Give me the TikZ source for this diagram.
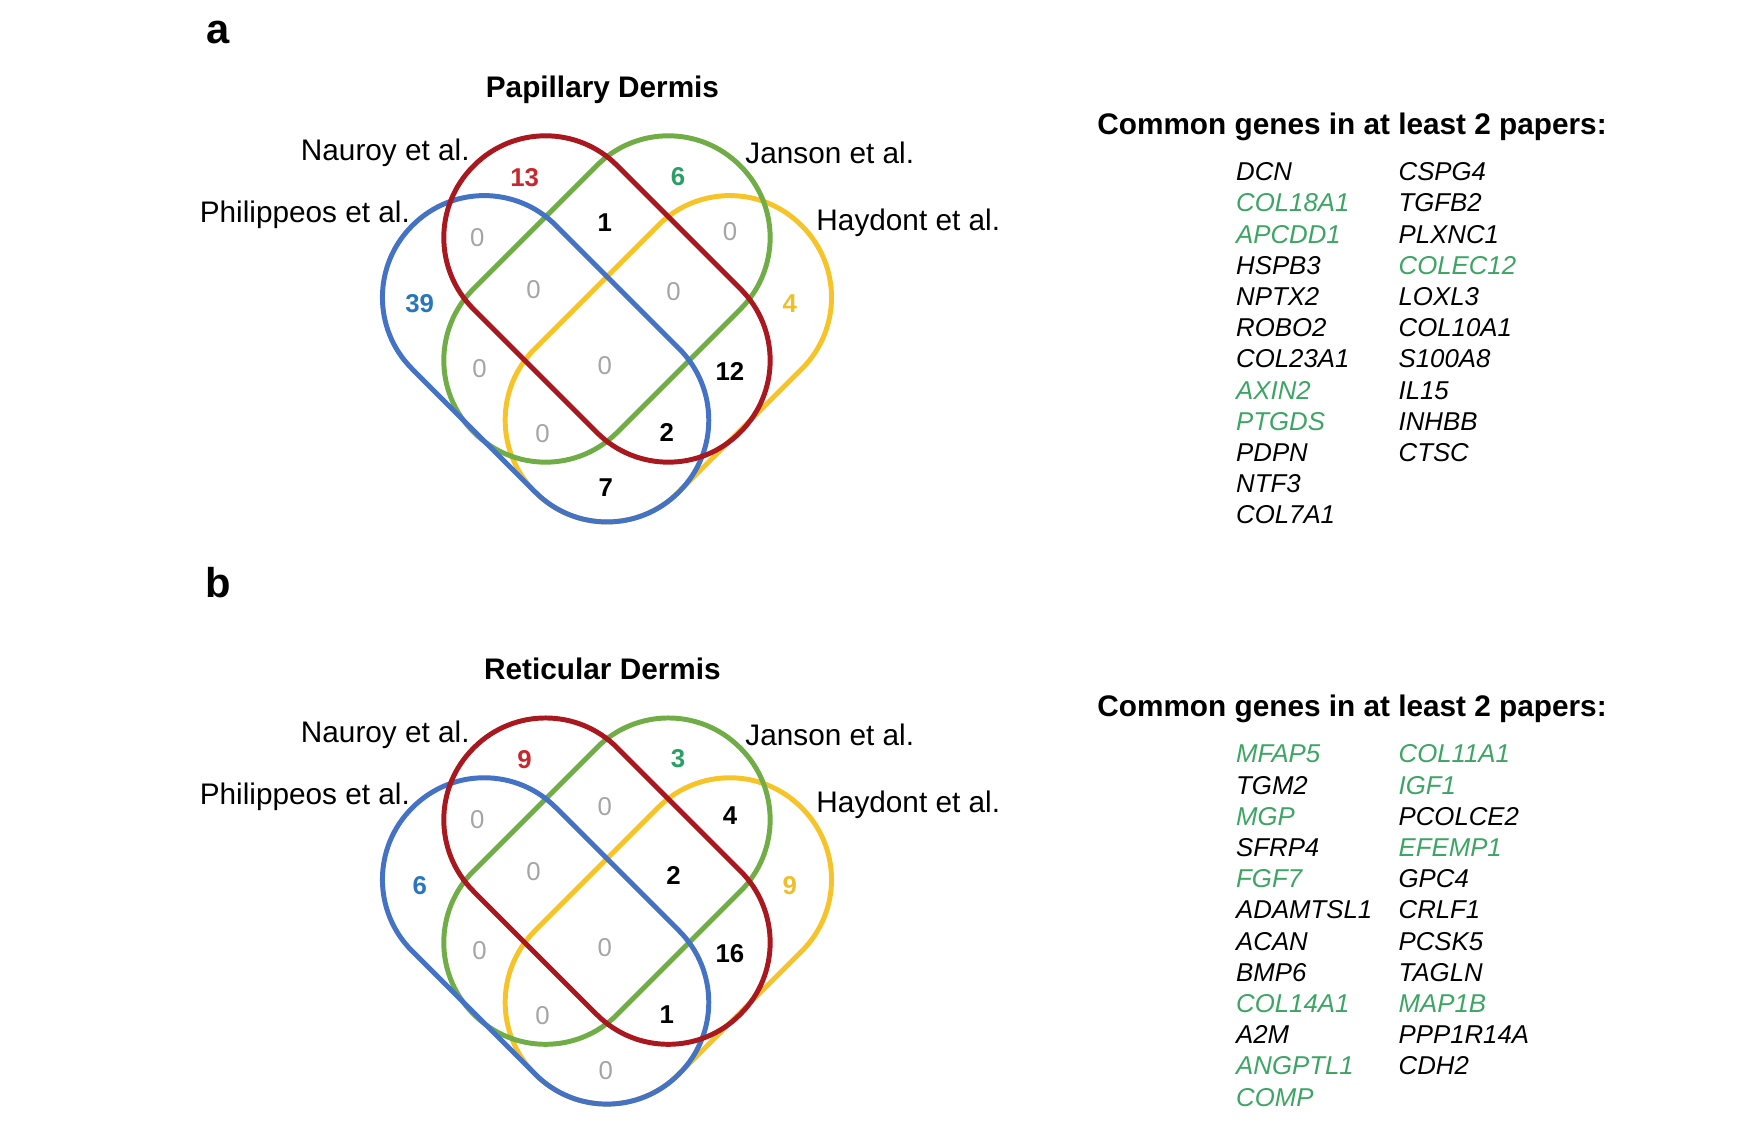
\documentclass[tikz,border=0pt]{standalone}
\usepackage{fontspec}
\setmainfont{Liberation Sans}
\usetikzlibrary{positioning}

\definecolor{vblue}{RGB}{68,114,196}
\definecolor{vyellow}{RGB}{246,196,40}
\definecolor{vgreen}{RGB}{112,173,71}
\definecolor{vred}{RGB}{168,24,30}
\definecolor{nred}{RGB}{200,40,45}
\definecolor{ngreen}{RGB}{40,160,100}
\definecolor{nblue}{RGB}{40,118,190}
\definecolor{nyellow}{RGB}{240,190,40}
\definecolor{ngray}{RGB}{165,165,165}
\definecolor{ggreen}{RGB}{60,165,100}

\tikzset{
    set/.style={line width=1.25pt, rounded corners=0.895cm},
    lbl/.style={inner sep=0pt, text height=0.72em, text depth=0pt,
        yshift=0.45mm, font=\fontsize{7.5}{9}\selectfont},
    ttl/.style={lbl, font=\fontsize{7.5}{9}\selectfont\bfseries},
    cnt/.style={inner sep=0pt, text height=0.72em, text depth=0pt,
        yshift=0.45mm, font=\fontsize{6.5}{8}\selectfont\bfseries},
    zero/.style={cnt, font=\fontsize{6.5}{8}\selectfont, text=ngray},
    gene/.style={inner sep=0pt, anchor=west, text height=0.72em,
        text depth=0pt, yshift=0.45mm, font=\fontsize{6.5}{8}\selectfont\itshape},
    panel/.style={inner sep=0pt, font=\fontsize{10.5}{12}\selectfont\bfseries}
}

% four sets and their labels, #1 = prefix, #2 = title
\newcommand\vennsets[2]{
    \draw[set, vyellow, shift={(592.4,318)}, rotate=45] (-167,-90) rectangle (167,90);
    \draw[set, vgreen, shift={(538,265)}, rotate=45] (-167,-90) rectangle (167,90);
    \draw[set, vblue, shift={(483.6,318)}, rotate=-45] (-167,-90) rectangle (167,90);
    \draw[set, vred, shift={(538,265)}, rotate=-45] (-167,-90) rectangle (167,90);
    \node[ttl] (#1-title) at (534,78) {#2};
    \node[lbl, anchor=east] (#1-nauroy) at (417,134) {Nauroy et al.};
    \node[lbl, anchor=west] (#1-janson) at (660,137) {Janson et al.};
    \node[lbl, anchor=east] (#1-phil) at (364,189) {Philippeos et al.};
    \node[lbl, anchor=west] (#1-haydont) at (723,196) {Haydont et al.};
    \node[ttl, anchor=west] (#1-head) at (972,111) {Common genes in at least 2 papers:};
}

\begin{document}
\begin{tikzpicture}[x=0.01cm, y=-0.01cm]
    \useasboundingbox (0,0) rectangle (1560,1017.5);

    % panel a
    \node[panel] (pa) at (193,29) {a};
    \vennsets{a}{Papillary Dermis}
    \node[cnt, text=nred] (a-n) at (465,157) {13};
    \node[cnt, text=ngreen] (a-j) at (601,156) {6};
    \node[cnt, text=nblue] (a-p) at (372,269) {39};
    \node[cnt, text=nyellow] (a-h) at (700,269) {4};
    \node[zero] (a-pn) at (423,210) {0};
    \node[cnt] (a-nj) at (536,197) {1};
    \node[zero] (a-jh) at (647,205) {0};
    \node[zero] (a-pnj) at (473,256) {0};
    \node[zero] (a-njh) at (597,258) {0};
    \node[zero] (a-pj) at (425,326) {0};
    \node[zero] (a-all) at (536,324) {0};
    \node[cnt] (a-nh) at (647,329) {12};
    \node[zero] (a-pjh) at (481,384) {0};
    \node[cnt] (a-pnh) at (591,383) {2};
    \node[cnt] (a-ph) at (537,432) {7};

    \foreach \g/\c [count=\i from 0] in {DCN/black, COL18A1/ggreen,
        APCDD1/ggreen, HSPB3/black, NPTX2/black, ROBO2/black,
        COL23A1/black, AXIN2/ggreen, PTGDS/ggreen, PDPN/black,
        NTF3/black, COL7A1/black}
        \node[gene, text=\c] (ga1-\i) at (1095,{152+27.65*\i}) {\g};
    \foreach \g/\c [count=\i from 0] in {CSPG4/black, TGFB2/black,
        PLXNC1/black, COLEC12/ggreen, LOXL3/black, COL10A1/black,
        S100A8/black, IL15/black, INHBB/black, CTSC/black}
        \node[gene, text=\c] (ga2-\i) at (1239,{152+27.65*\i}) {\g};

    % panel b
    \node[panel] (pb) at (193,516) {b};
    \begin{scope}[shift={(0,516)}]
        \vennsets{b}{Reticular Dermis}
        \node[cnt, text=nred] (b-n) at (465,157) {9};
        \node[cnt, text=ngreen] (b-j) at (601,156) {3};
        \node[cnt, text=nblue] (b-p) at (372,269) {6};
        \node[cnt, text=nyellow] (b-h) at (700,269) {9};
        \node[zero] (b-pn) at (423,210) {0};
        \node[zero] (b-nj) at (536,199) {0};
        \node[cnt] (b-jh) at (647,207) {4};
        \node[zero] (b-pnj) at (473,256) {0};
        \node[cnt] (b-njh) at (597,260) {2};
        \node[zero] (b-pj) at (425,326) {0};
        \node[zero] (b-all) at (536,324) {0};
        \node[cnt] (b-nh) at (647,329) {16};
        \node[zero] (b-pjh) at (481,384) {0};
        \node[cnt] (b-pnh) at (591,383) {1};
        \node[zero] (b-ph) at (537,433) {0};

        \foreach \g/\c [count=\i from 0] in {MFAP5/ggreen, TGM2/black,
            MGP/ggreen, SFRP4/black, FGF7/ggreen, ADAMTSL1/black,
            ACAN/black, BMP6/black, COL14A1/ggreen, A2M/black,
            ANGPTL1/ggreen, COMP/ggreen}
            \node[gene, text=\c] (gb1-\i) at (1095,{152+27.65*\i}) {\g};
        \foreach \g/\c [count=\i from 0] in {COL11A1/ggreen, IGF1/ggreen,
            PCOLCE2/black, EFEMP1/ggreen, GPC4/black, CRLF1/black,
            PCSK5/black, TAGLN/black, MAP1B/ggreen, PPP1R14A/black,
            CDH2/black}
            \node[gene, text=\c] (gb2-\i) at (1239,{152+27.65*\i}) {\g};
    \end{scope}
\end{tikzpicture}
\end{document}
